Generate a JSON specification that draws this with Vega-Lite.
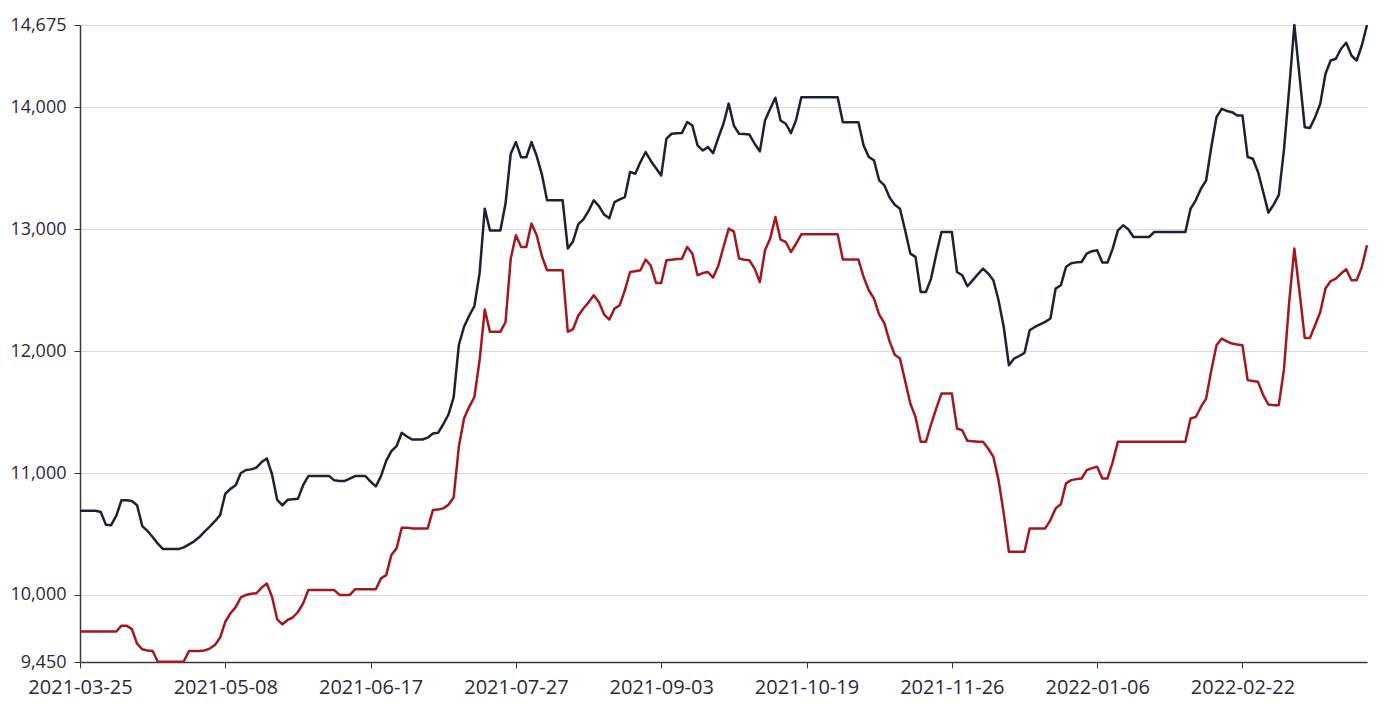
{
"$schema": "https://vega.github.io/schema/vega-lite/v6.json",
"width": 1287, "height": 637,
"autosize": {"type": "none"},
"padding": {"left": 80, "top": 25, "right": 19, "bottom": 52},
"background": "#ffffff",
"config": {"view": {"stroke": null}, "font": "Open Sans"},
"data": {"values": [
{"d":"2021-03-25","a":10690,"b":9700},{"d":"2021-03-26","a":10690,"b":9700},{"d":"2021-03-29","a":10690,"b":9700},{"d":"2021-03-30","a":10690,"b":9700},{"d":"2021-03-31","a":10680,"b":9700},
{"d":"2021-04-01","a":10575,"b":9700},{"d":"2021-04-02","a":10572,"b":9700},{"d":"2021-04-06","a":10650,"b":9700},{"d":"2021-04-07","a":10777,"b":9748},{"d":"2021-04-08","a":10777,"b":9748},
{"d":"2021-04-09","a":10770,"b":9720},{"d":"2021-04-12","a":10736,"b":9600},{"d":"2021-04-13","a":10565,"b":9554},{"d":"2021-04-14","a":10525,"b":9545},{"d":"2021-04-15","a":10475,"b":9540},
{"d":"2021-04-16","a":10420,"b":9452},{"d":"2021-04-19","a":10376,"b":9452},{"d":"2021-04-20","a":10376,"b":9452},{"d":"2021-04-21","a":10376,"b":9452},{"d":"2021-04-22","a":10376,"b":9452},
{"d":"2021-04-23","a":10390,"b":9455},{"d":"2021-04-26","a":10415,"b":9540},{"d":"2021-04-27","a":10440,"b":9540},{"d":"2021-04-28","a":10475,"b":9540},{"d":"2021-04-29","a":10520,"b":9545},
{"d":"2021-04-30","a":10560,"b":9560},{"d":"2021-05-06","a":10605,"b":9590},{"d":"2021-05-07","a":10655,"b":9650},{"d":"2021-05-08","a":10830,"b":9780},{"d":"2021-05-10","a":10870,"b":9850},
{"d":"2021-05-11","a":10900,"b":9900},{"d":"2021-05-12","a":11000,"b":9980},{"d":"2021-05-13","a":11025,"b":10000},{"d":"2021-05-14","a":11030,"b":10010},{"d":"2021-05-17","a":11045,"b":10014},
{"d":"2021-05-18","a":11090,"b":10060},{"d":"2021-05-19","a":11120,"b":10094},{"d":"2021-05-20","a":10990,"b":9985},{"d":"2021-05-21","a":10780,"b":9800},{"d":"2021-05-24","a":10735,"b":9759},
{"d":"2021-05-25","a":10780,"b":9795},{"d":"2021-05-26","a":10785,"b":9815},{"d":"2021-05-27","a":10790,"b":9860},{"d":"2021-05-28","a":10900,"b":9931},{"d":"2021-05-31","a":10975,"b":10040},
{"d":"2021-06-01","a":10975,"b":10040},{"d":"2021-06-02","a":10975,"b":10040},{"d":"2021-06-03","a":10975,"b":10040},{"d":"2021-06-04","a":10975,"b":10040},{"d":"2021-06-07","a":10940,"b":10040},
{"d":"2021-06-08","a":10935,"b":10000},{"d":"2021-06-09","a":10935,"b":10000},{"d":"2021-06-10","a":10955,"b":10000},{"d":"2021-06-11","a":10975,"b":10046},{"d":"2021-06-15","a":10975,"b":10046},
{"d":"2021-06-16","a":10975,"b":10046},{"d":"2021-06-17","a":10930,"b":10046},{"d":"2021-06-18","a":10890,"b":10046},{"d":"2021-06-21","a":10975,"b":10136},{"d":"2021-06-22","a":11100,"b":10163},
{"d":"2021-06-23","a":11180,"b":10327},{"d":"2021-06-24","a":11220,"b":10382},{"d":"2021-06-25","a":11330,"b":10551},{"d":"2021-06-28","a":11300,"b":10551},{"d":"2021-06-29","a":11275,"b":10546},
{"d":"2021-06-30","a":11275,"b":10546},{"d":"2021-07-01","a":11275,"b":10546},{"d":"2021-07-02","a":11290,"b":10546},{"d":"2021-07-05","a":11325,"b":10696},{"d":"2021-07-06","a":11330,"b":10700},
{"d":"2021-07-07","a":11400,"b":10710},{"d":"2021-07-08","a":11480,"b":10740},{"d":"2021-07-09","a":11620,"b":10800},{"d":"2021-07-12","a":12050,"b":11215},{"d":"2021-07-13","a":12200,"b":11447},
{"d":"2021-07-14","a":12290,"b":11543},{"d":"2021-07-15","a":12370,"b":11624},{"d":"2021-07-16","a":12640,"b":11925},{"d":"2021-07-19","a":13168,"b":12341},{"d":"2021-07-20","a":12990,"b":12158},
{"d":"2021-07-21","a":12990,"b":12158},{"d":"2021-07-22","a":12990,"b":12158},{"d":"2021-07-23","a":13210,"b":12239},{"d":"2021-07-26","a":13619,"b":12759},{"d":"2021-07-27","a":13715,"b":12950},
{"d":"2021-07-28","a":13590,"b":12854},{"d":"2021-07-29","a":13590,"b":12854},{"d":"2021-07-30","a":13715,"b":13046},{"d":"2021-08-02","a":13600,"b":12950},{"d":"2021-08-03","a":13450,"b":12780},
{"d":"2021-08-04","a":13237,"b":12663},{"d":"2021-08-05","a":13237,"b":12663},{"d":"2021-08-06","a":13237,"b":12663},{"d":"2021-08-09","a":13237,"b":12663},{"d":"2021-08-10","a":12841,"b":12158},
{"d":"2021-08-11","a":12900,"b":12180},{"d":"2021-08-12","a":13040,"b":12290},{"d":"2021-08-13","a":13080,"b":12349},{"d":"2021-08-16","a":13150,"b":12400},{"d":"2021-08-17","a":13237,"b":12458},
{"d":"2021-08-18","a":13190,"b":12400},{"d":"2021-08-19","a":13120,"b":12300},{"d":"2021-08-20","a":13090,"b":12259},{"d":"2021-08-23","a":13223,"b":12349},{"d":"2021-08-24","a":13245,"b":12376},
{"d":"2021-08-25","a":13264,"b":12500},{"d":"2021-08-26","a":13470,"b":12649},{"d":"2021-08-27","a":13455,"b":12655},{"d":"2021-08-30","a":13551,"b":12663},{"d":"2021-08-31","a":13633,"b":12751},
{"d":"2021-09-01","a":13560,"b":12700},{"d":"2021-09-02","a":13500,"b":12559},{"d":"2021-09-03","a":13441,"b":12559},{"d":"2021-09-06","a":13742,"b":12745},{"d":"2021-09-07","a":13783,"b":12750},
{"d":"2021-09-08","a":13788,"b":12755},{"d":"2021-09-09","a":13790,"b":12758},{"d":"2021-09-10","a":13879,"b":12854},{"d":"2021-09-13","a":13850,"b":12800},{"d":"2021-09-14","a":13687,"b":12622},
{"d":"2021-09-15","a":13646,"b":12640},{"d":"2021-09-16","a":13673,"b":12649},{"d":"2021-09-17","a":13624,"b":12603},{"d":"2021-09-18","a":13750,"b":12700},{"d":"2021-09-22","a":13865,"b":12854},
{"d":"2021-09-23","a":14030,"b":13005},{"d":"2021-09-24","a":13850,"b":12980},{"d":"2021-09-26","a":13783,"b":12759},{"d":"2021-09-27","a":13780,"b":12750},{"d":"2021-09-28","a":13776,"b":12745},
{"d":"2021-09-29","a":13701,"b":12677},{"d":"2021-09-30","a":13638,"b":12567},{"d":"2021-10-08","a":13892,"b":12827},{"d":"2021-10-09","a":13988,"b":12923},{"d":"2021-10-11","a":14078,"b":13100},
{"d":"2021-10-12","a":13892,"b":12914},{"d":"2021-10-13","a":13865,"b":12895},{"d":"2021-10-14","a":13788,"b":12813},{"d":"2021-10-15","a":13898,"b":12881},{"d":"2021-10-18","a":14083,"b":12958},
{"d":"2021-10-19","a":14083,"b":12958},{"d":"2021-10-20","a":14083,"b":12958},{"d":"2021-10-21","a":14083,"b":12958},{"d":"2021-10-22","a":14083,"b":12958},{"d":"2021-10-25","a":14083,"b":12958},
{"d":"2021-10-26","a":14083,"b":12958},{"d":"2021-10-27","a":14083,"b":12958},{"d":"2021-10-28","a":13878,"b":12751},{"d":"2021-10-29","a":13878,"b":12751},{"d":"2021-11-01","a":13878,"b":12751},
{"d":"2021-11-02","a":13878,"b":12751},{"d":"2021-11-03","a":13687,"b":12608},{"d":"2021-11-04","a":13592,"b":12499},{"d":"2021-11-05","a":13565,"b":12431},{"d":"2021-11-08","a":13400,"b":12300},
{"d":"2021-11-09","a":13360,"b":12230},{"d":"2021-11-10","a":13260,"b":12080},{"d":"2021-11-11","a":13200,"b":11970},{"d":"2021-11-12","a":13168,"b":11939},{"d":"2021-11-15","a":12991,"b":11756},
{"d":"2021-11-16","a":12800,"b":11570},{"d":"2021-11-17","a":12773,"b":11460},{"d":"2021-11-18","a":12485,"b":11256},{"d":"2021-11-19","a":12485,"b":11256},{"d":"2021-11-22","a":12595,"b":11400},
{"d":"2021-11-23","a":12795,"b":11530},{"d":"2021-11-24","a":12977,"b":11652},{"d":"2021-11-25","a":12977,"b":11652},{"d":"2021-11-26","a":12977,"b":11652},{"d":"2021-11-29","a":12649,"b":11365},
{"d":"2021-11-30","a":12622,"b":11351},{"d":"2021-12-01","a":12532,"b":11264},{"d":"2021-12-02","a":12580,"b":11260},{"d":"2021-12-03","a":12630,"b":11256},{"d":"2021-12-06","a":12677,"b":11256},
{"d":"2021-12-07","a":12636,"b":11201},{"d":"2021-12-08","a":12581,"b":11133},{"d":"2021-12-09","a":12417,"b":10942},{"d":"2021-12-10","a":12198,"b":10669},{"d":"2021-12-13","a":11884,"b":10354},
{"d":"2021-12-14","a":11939,"b":10354},{"d":"2021-12-15","a":11960,"b":10354},{"d":"2021-12-16","a":11985,"b":10354},{"d":"2021-12-17","a":12171,"b":10546},{"d":"2021-12-20","a":12198,"b":10546},
{"d":"2021-12-21","a":12220,"b":10546},{"d":"2021-12-22","a":12240,"b":10546},{"d":"2021-12-23","a":12267,"b":10614},{"d":"2021-12-24","a":12513,"b":10710},{"d":"2021-12-27","a":12540,"b":10744},
{"d":"2021-12-28","a":12690,"b":10915},{"d":"2021-12-29","a":12720,"b":10942},{"d":"2021-12-30","a":12728,"b":10950},{"d":"2021-12-31","a":12731,"b":10955},{"d":"2022-01-04","a":12800,"b":11024},
{"d":"2022-01-05","a":12820,"b":11040},{"d":"2022-01-06","a":12827,"b":11051},{"d":"2022-01-07","a":12726,"b":10956},{"d":"2022-01-10","a":12726,"b":10956},{"d":"2022-01-11","a":12841,"b":11092},
{"d":"2022-01-12","a":12991,"b":11256},{"d":"2022-01-13","a":13032,"b":11256},{"d":"2022-01-14","a":13000,"b":11256},{"d":"2022-01-17","a":12936,"b":11256},{"d":"2022-01-18","a":12936,"b":11256},
{"d":"2022-01-19","a":12936,"b":11256},{"d":"2022-01-20","a":12936,"b":11256},{"d":"2022-01-21","a":12977,"b":11256},{"d":"2022-01-24","a":12977,"b":11256},{"d":"2022-01-25","a":12977,"b":11256},
{"d":"2022-01-26","a":12977,"b":11256},{"d":"2022-01-27","a":12977,"b":11256},{"d":"2022-01-28","a":12977,"b":11256},{"d":"2022-02-07","a":12977,"b":11256},{"d":"2022-02-08","a":13168,"b":11447},
{"d":"2022-02-09","a":13237,"b":11460},{"d":"2022-02-10","a":13332,"b":11542},{"d":"2022-02-11","a":13400,"b":11611},{"d":"2022-02-14","a":13674,"b":11843},{"d":"2022-02-15","a":13919,"b":12048},
{"d":"2022-02-16","a":13987,"b":12103},{"d":"2022-02-17","a":13970,"b":12080},{"d":"2022-02-18","a":13960,"b":12062},{"d":"2022-02-21","a":13933,"b":12054},{"d":"2022-02-22","a":13933,"b":12048},
{"d":"2022-02-23","a":13592,"b":11762},{"d":"2022-02-24","a":13578,"b":11755},{"d":"2022-02-25","a":13469,"b":11748},{"d":"2022-02-28","a":13305,"b":11639},{"d":"2022-03-01","a":13136,"b":11562},
{"d":"2022-03-02","a":13201,"b":11557},{"d":"2022-03-03","a":13280,"b":11557},{"d":"2022-03-04","a":13650,"b":11850},{"d":"2022-03-07","a":14150,"b":12400},{"d":"2022-03-08","a":14675,"b":12841},
{"d":"2022-03-09","a":14256,"b":12485},{"d":"2022-03-10","a":13837,"b":12108},{"d":"2022-03-11","a":13830,"b":12108},{"d":"2022-03-14","a":13919,"b":12212},{"d":"2022-03-15","a":14029,"b":12321},
{"d":"2022-03-16","a":14275,"b":12513},{"d":"2022-03-17","a":14384,"b":12575},{"d":"2022-03-18","a":14398,"b":12595},{"d":"2022-03-21","a":14480,"b":12636},{"d":"2022-03-22","a":14529,"b":12671},
{"d":"2022-03-23","a":14425,"b":12581},{"d":"2022-03-24","a":14384,"b":12581},{"d":"2022-03-25","a":14507,"b":12690},{"d":"2022-03-28","a":14675,"b":12868}
]},
"transform": [{"fold": ["a", "b"], "as": ["s", "v"]}],
"mark": {"type": "line", "strokeWidth": 2.5, "strokeJoin": "round"},
"encoding": {
  "x": {"field": "d", "type": "ordinal", "sort": null,
    "scale": {"type": "point", "padding": 0},
    "axis": {"values": ["2021-03-25","2021-05-08","2021-06-17","2021-07-27","2021-09-03","2021-10-19","2021-11-26","2022-01-06","2022-02-22"],
      "title": null, "labelAngle": 0, "grid": false, "labelOverlap": false, "labelFlush": false,
      "domainColor": "#3a3a3a", "domainWidth": 1.5, "tickColor": "#3a3a3a", "tickSize": 6,
      "labelFontSize": 20, "labelColor": "#2b2840", "labelPadding": 9}},
  "y": {"field": "v", "type": "quantitative",
    "scale": {"domain": [9450, 14675], "nice": false, "zero": false},
    "axis": {"values": [9450, 10000, 11000, 12000, 13000, 14000, 14675], "format": ",.0f",
      "title": null, "gridColor": "#d9d9df", "gridWidth": 1,
      "domainColor": "#3a3a3a", "domainWidth": 1.5, "tickColor": "#3a3a3a", "tickSize": 6,
      "labelFontSize": 18, "labelColor": "#2b2840", "labelPadding": 8}},
  "color": {"field": "s", "type": "nominal", "legend": null,
    "scale": {"domain": ["a", "b"], "range": ["#1c2235", "#a3181e"]}}
}
}
